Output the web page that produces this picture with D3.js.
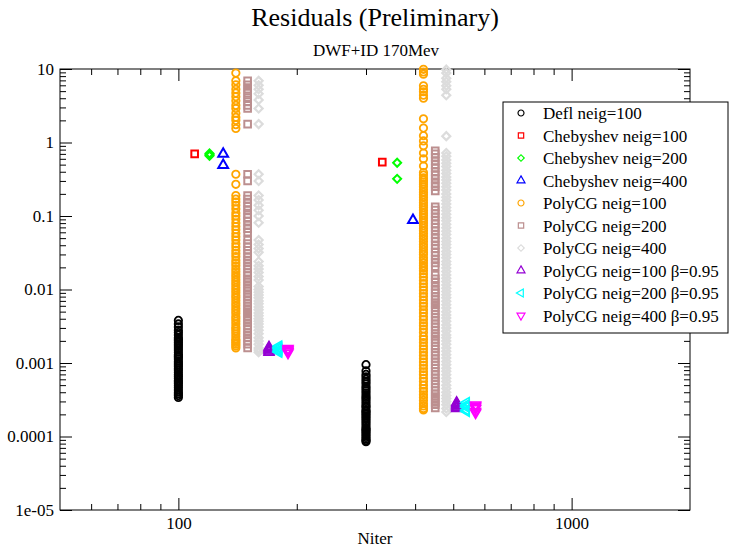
<!DOCTYPE html>
<html>
<head>
<meta charset="utf-8">
<script src="https://cdn.jsdelivr.net/npm/d3@7"></script>
<style>
body { margin: 0; background: #fff; }
text { font-family: "Liberation Serif", "Times New Roman", serif; }
</style>
</head>
<body>
<div id="chart"></div>
<script>
// residuals, one array per column of points
const deflA = [0.0038, 0.0034, 0.0031, 0.0028, 0.0026, 0.0024, 0.0022, 0.0021, 0.002, 0.0019, 0.0018, 0.0017, 0.0016, 0.0015, 0.0014, 0.0013, 0.00125, 0.0012, 0.00113, 0.00106, 0.001, 0.00095, 0.0009, 0.00085, 0.0008, 0.00075, 0.0007, 0.00066, 0.00062, 0.00058, 0.00055, 0.00052, 0.00049, 0.00046, 0.00043, 0.0004, 0.00038, 0.00036, 0.00034];
const deflB = [0.00095, 0.00078, 0.0007, 0.00065, 0.0006, 0.00056, 0.00052, 0.00048, 0.00045, 0.00042, 0.00039, 0.00036, 0.00034, 0.00032, 0.0003, 0.00028, 0.00026, 0.00025, 0.00023, 0.00022, 0.00021, 0.0002, 0.00019, 0.00018, 0.00017, 0.00016, 0.00015, 0.00014, 0.00013, 0.000125, 0.00012, 0.000114, 0.000108, 0.000102, 0.000097, 0.000092, 0.000088, 0.000085];

const cheb100A = [0.70];
const cheb100B = [0.54];
const cheb200A = [0.71, 0.68, 0.66];
const cheb200B = [0.53, 0.32];
const cheb400A = [0.70, 0.49];
const cheb400B = [0.088];

const poly100A = [8.8, 6.9, 6.1, 5.3, 4.7, 4.2, 3.7, 3.2, 2.9, 2.5, 2.2, 2.0, 1.75, 1.55, 0.37, 0.27, 0.19, 0.17, 0.155, 0.14, 0.125, 0.11, 0.1, 0.09, 0.08, 0.072, 0.065, 0.058, 0.052, 0.047, 0.042, 0.038, 0.034, 0.031, 0.028, 0.025, 0.023, 0.021, 0.019, 0.0175, 0.016, 0.0148, 0.0136, 0.0125, 0.0115, 0.0106, 0.0098, 0.009, 0.0083, 0.0077, 0.0071, 0.0065, 0.006, 0.0055, 0.0051, 0.0047, 0.0043, 0.004, 0.0037, 0.0034, 0.0031, 0.0029, 0.0027, 0.0025, 0.0023, 0.0021, 0.002, 0.0019, 0.0018, 0.0017, 0.0016];
const poly100B = [9.9, 9.1, 8.5, 5.9, 5.3, 4.9, 4.4, 4.0, 2.1, 1.57, 1.24, 1.05, 0.9, 0.72, 0.6, 0.48, 0.39, 0.36, 0.33, 0.31, 0.29, 0.27, 0.25, 0.23, 0.21, 0.195, 0.18, 0.165, 0.152, 0.14, 0.13, 0.12, 0.11, 0.102, 0.094, 0.087, 0.08, 0.074, 0.068, 0.063, 0.058, 0.053, 0.049, 0.045, 0.041, 0.038, 0.035, 0.032, 0.03, 0.027, 0.025, 0.023, 0.021, 0.0195, 0.018, 0.0163, 0.0147, 0.0133, 0.012, 0.0108, 0.0098, 0.0088, 0.008, 0.0072, 0.0065, 0.0059, 0.0053, 0.0048, 0.0043, 0.0039, 0.0035, 0.0032, 0.0029, 0.0026, 0.0023, 0.0021, 0.0019, 0.0017, 0.00155, 0.0014, 0.00126, 0.00114, 0.00103, 0.00093, 0.00084, 0.00076, 0.00069, 0.00062, 0.00056, 0.0005, 0.00045, 0.00041, 0.00037, 0.00034, 0.00031, 0.00028, 0.00026, 0.00024, 0.00023];

const poly200A = [6.9, 6.1, 5.3, 4.7, 4.1, 3.6, 3.2, 2.9, 1.78, 0.37, 0.3, 0.19, 0.17, 0.15, 0.135, 0.12, 0.105, 0.095, 0.085, 0.075, 0.067, 0.06, 0.047, 0.042, 0.038, 0.034, 0.031, 0.028, 0.025, 0.023, 0.021, 0.019, 0.017, 0.0155, 0.014, 0.0128, 0.0117, 0.0106, 0.0097, 0.0088, 0.008, 0.0073, 0.0066, 0.006, 0.0055, 0.005, 0.0046, 0.0042, 0.0038, 0.0035, 0.0032, 0.0029, 0.0026, 0.0024, 0.0022, 0.002, 0.0018, 0.0016];
const poly200B = [0.77, 0.7, 0.63, 0.56, 0.5, 0.45, 0.4, 0.36, 0.32, 0.28, 0.25, 0.22, 0.133, 0.12, 0.108, 0.097, 0.087, 0.078, 0.07, 0.063, 0.056, 0.05, 0.045, 0.04, 0.036, 0.032, 0.029, 0.026, 0.023, 0.0205, 0.0157, 0.014, 0.0125, 0.011, 0.0098, 0.009, 0.0081, 0.0073, 0.0066, 0.0062, 0.0057, 0.0051, 0.0046, 0.0042, 0.0038, 0.0034, 0.0031, 0.0028, 0.0025, 0.0023, 0.0021, 0.0019, 0.0017, 0.00155, 0.0014, 0.00127, 0.00115, 0.00104, 0.00094, 0.00085, 0.00077, 0.0007, 0.00063, 0.00057, 0.00052, 0.00047, 0.00042, 0.00038, 0.00035, 0.00032, 0.00029, 0.00027, 0.000245];

const poly400A = [6.9, 6.0, 5.3, 4.6, 3.8, 2.9, 1.78, 0.37, 0.3, 0.19, 0.165, 0.14, 0.12, 0.1, 0.081, 0.047, 0.041, 0.036, 0.032, 0.024, 0.021, 0.019, 0.017, 0.015, 0.0135, 0.011, 0.01, 0.0092, 0.0084, 0.0077, 0.007, 0.0064, 0.0058, 0.0053, 0.0048, 0.0044, 0.004, 0.0037, 0.0034, 0.0031, 0.0028, 0.0025, 0.0022, 0.002, 0.0018, 0.0016, 0.0015, 0.0014];
const poly400B = [9.8, 8.8, 7.5, 6.7, 5.9, 5.3, 4.4, 1.22, 0.72, 0.65, 0.58, 0.52, 0.47, 0.42, 0.38, 0.34, 0.31, 0.28, 0.25, 0.225, 0.2, 0.18, 0.162, 0.146, 0.131, 0.118, 0.106, 0.095, 0.086, 0.077, 0.069, 0.062, 0.056, 0.05, 0.045, 0.041, 0.037, 0.033, 0.03, 0.027, 0.024, 0.0218, 0.0196, 0.0176, 0.0158, 0.0142, 0.0128, 0.0115, 0.0104, 0.0094, 0.0085, 0.0077, 0.0069, 0.0062, 0.0056, 0.005, 0.0045, 0.0041, 0.0037, 0.0033, 0.003, 0.0027, 0.0024, 0.0022, 0.002, 0.0018, 0.0016, 0.00145, 0.0013, 0.00117, 0.00105, 0.00095, 0.00085, 0.00077, 0.00069, 0.00062, 0.00056, 0.0005, 0.00045, 0.0004, 0.00036, 0.00033, 0.0003, 0.00027, 0.00024, 0.000215];

const beta100A = [0.00165, 0.0016, 0.00155, 0.0015, 0.00145, 0.0014];
const beta100B = [0.00029, 0.00028, 0.00027, 0.00026, 0.00025, 0.00024];
const beta200A = [0.0017, 0.00163, 0.00157, 0.0015, 0.00145, 0.0014];
const beta200B = [0.00029, 0.00027, 0.00026, 0.00025, 0.00023, 0.00022];
const beta400A = [0.00158, 0.00153, 0.00148, 0.00143, 0.00137];
const beta400B = [0.00027, 0.00026, 0.00025, 0.00024, 0.00022, 0.00021];

// Niter where each column sits
const niterA = [100, 110, 120, 130, 140, 150, 160, 170, 180, 190];
const niterB = [300, 330, 360, 395, 420, 450, 480, 510, 540, 570];

const names = ["Defl neig=100", "Chebyshev neig=100", "Chebyshev neig=200", "Chebyshev neig=400",
  "PolyCG neig=100", "PolyCG neig=200", "PolyCG neig=400",
  "PolyCG neig=100 \u03b2=0.95", "PolyCG neig=200 \u03b2=0.95", "PolyCG neig=400 \u03b2=0.95"];
const colA = [deflA, cheb100A, cheb200A, cheb400A, poly100A, poly200A, poly400A, beta100A, beta200A, beta400A];
const colB = [deflB, cheb100B, cheb200B, cheb400B, poly100B, poly200B, poly400B, beta100B, beta200B, beta400B];

const xMajor = [100, 1000];
const xMinor = [60, 70, 80, 90, 200, 300, 400, 500, 600, 700, 800, 900];
const yMajor = [1e-5, 1e-4, 1e-3, 1e-2, 1e-1, 1, 10];
const yLabels = ["1e-05", "0.0001", "0.001", "0.01", "0.1", "1", "10"];
const yMinor = [];
yMajor.slice(0, -1).forEach(d => [2, 3, 4, 5, 6, 7, 8, 9].forEach(m => yMinor.push(d * m)));

const colors = ["#000000", "#ff0000", "#00ff00", "#0000ff", "#ffa500", "#bc8f8f", "#dcdcdc", "#9400d3", "#00ffff", "#ff00ff"];
const shapes = ["circle", "square", "diamond", "triUp", "circle", "square", "diamond", "triUp", "triLeft", "triDown"];
const widths = [1.8, 2, 2, 2, 1.8, 2, 2.2, 1.6, 1.6, 1.6];

const serif = "'Liberation Serif', 'Times New Roman', serif";
const svg = d3.select("#chart").append("svg").attr("width", 730).attr("height", 549)
  .attr("font-family", serif);

const x = d3.scaleLog().domain([50, 2000]).range([60, 690]);
const y = d3.scaleLog().domain([1e-5, 10]).range([510, 69]);

function symbolPath(shape, big) {
  const k = big ? 1 : 0.65;
  if (shape == "circle") return d3.symbol().type(d3.symbolCircle).size(43 * k)();
  if (shape == "square") return d3.symbol().type(d3.symbolSquare).size(44 * k)();
  if (shape == "diamond") return d3.symbol().type(d3.symbolSquare).size(32 * k)();
  return d3.symbol().type(d3.symbolTriangle).size(42 * k)();
}
const rotation = { circle: 0, square: 0, diamond: 45, triUp: 0, triLeft: -90, triDown: 180 };

// axes, ticks pointing inward on all four sides
function ticks(g) {
  g.attr("font-family", serif).attr("font-size", 17);
  g.select(".domain").remove();
  g.selectAll("line").attr("stroke", "black");
}
svg.append("g").attr("transform", "translate(0,510)")
  .call(d3.axisBottom(x).tickValues(xMajor).tickSize(-12).tickPadding(7).tickFormat(d3.format("d"))).call(ticks);
svg.append("g").attr("transform", "translate(0,510)")
  .call(d3.axisBottom(x).tickValues(xMinor).tickSize(-6).tickFormat("")).call(ticks);
svg.append("g").attr("transform", "translate(0,69)")
  .call(d3.axisTop(x).tickValues(xMajor).tickSize(-12).tickFormat("")).call(ticks);
svg.append("g").attr("transform", "translate(0,69)")
  .call(d3.axisTop(x).tickValues(xMinor).tickSize(-6).tickFormat("")).call(ticks);
svg.append("g").attr("transform", "translate(60,0)")
  .call(d3.axisLeft(y).tickValues(yMajor).tickSize(-12).tickPadding(6).tickFormat((d, i) => yLabels[i])).call(ticks);
svg.append("g").attr("transform", "translate(60,0)")
  .call(d3.axisLeft(y).tickValues(yMinor).tickSize(-6).tickFormat("")).call(ticks);
svg.append("g").attr("transform", "translate(690,0)")
  .call(d3.axisRight(y).tickValues(yMajor).tickSize(-12).tickFormat("")).call(ticks);
svg.append("g").attr("transform", "translate(690,0)")
  .call(d3.axisRight(y).tickValues(yMinor).tickSize(-6).tickFormat("")).call(ticks);
svg.selectAll(".tick text").attr("fill", "black");

svg.append("rect").attr("x", 60).attr("y", 69).attr("width", 630).attr("height", 441)
  .attr("fill", "none").attr("stroke", "black");

// points
names.forEach((name, i) => {
  const pts = colA[i].map(v => [niterA[i], v]).concat(colB[i].map(v => [niterB[i], v]));
  const path = symbolPath(shapes[i], true);
  svg.append("g").selectAll("path").data(pts).join("path")
    .attr("d", path)
    .attr("transform", d => "translate(" + x(d[0]) + "," + y(d[1]) + ") rotate(" + rotation[shapes[i]] + ")")
    .attr("fill", "none")
    .attr("stroke", colors[i])
    .attr("stroke-width", widths[i]);
});

// titles
svg.append("text").attr("x", 375).attr("y", 26).attr("text-anchor", "middle")
  .attr("font-size", 26).text("Residuals (Preliminary)");
svg.append("text").attr("x", 376).attr("y", 56).attr("text-anchor", "middle")
  .attr("font-size", 17).text("DWF+ID 170Mev");
svg.append("text").attr("x", 375).attr("y", 544).attr("text-anchor", "middle")
  .attr("font-size", 17).text("Niter");

// legend
const lg = svg.append("g");
lg.append("rect").attr("x", 503).attr("y", 102).attr("width", 225).attr("height", 231)
  .attr("fill", "white").attr("stroke", "black");
names.forEach((name, i) => {
  const yy = 113 + i * 22.5;
  lg.append("path").attr("d", symbolPath(shapes[i], false))
    .attr("transform", "translate(521," + yy + ") rotate(" + rotation[shapes[i]] + ")")
    .attr("fill", "none").attr("stroke", colors[i]).attr("stroke-width", 1.2);
  lg.append("text").attr("x", 543).attr("y", yy + 6).attr("font-size", 17).text(name);
});
</script>
</body>
</html>
